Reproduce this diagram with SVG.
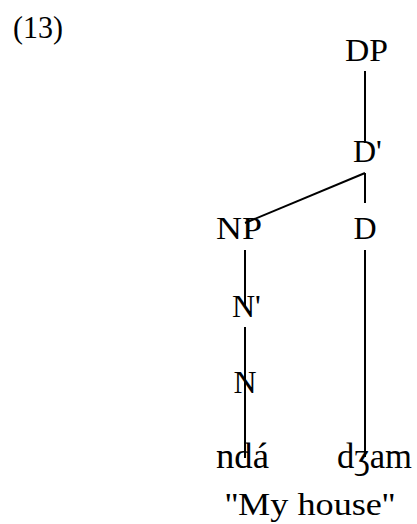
<svg xmlns="http://www.w3.org/2000/svg" width="417" height="524" viewBox="0 0 417 524">
<style>
text{font-family:"Liberation Serif","DejaVu Serif",serif;font-size:32px;fill:#000}
.c{text-anchor:middle}
.w{font-size:35px}
line{stroke:#000;stroke-width:2}
</style>
<rect width="417" height="524" fill="#fff"/>
<text x="13" y="38" font-size="31" textLength="50" lengthAdjust="spacingAndGlyphs">(13)</text>
<g id="connectors">
<line x1="365" y1="71" x2="365" y2="143"/>
<line x1="365" y1="173" x2="365" y2="203"/>
<line x1="365" y1="173" x2="245" y2="223"/>
<line x1="245" y1="250" x2="245" y2="307"/>
<line x1="245" y1="327" x2="245" y2="458"/>
<line x1="365" y1="250" x2="365" y2="457"/>
</g>
<g id="DP"><text x="345" y="61" textLength="43" lengthAdjust="spacingAndGlyphs">DP</text></g>
<g id="Dbar"><text x="353" y="162">D'</text></g>
<g id="NP"><text x="216" y="239" textLength="46" lengthAdjust="spacingAndGlyphs">NP</text></g>
<g id="D"><text class="c" x="365" y="239">D</text></g>
<g id="Nbar"><text x="232" y="317">N'</text></g>
<g id="N"><text class="c" x="245" y="393">N</text></g>
<g id="nda"><text class="w" x="216" y="468" textLength="53" lengthAdjust="spacingAndGlyphs">ndá</text></g>
<g id="dzam"><text class="w" x="337" y="468" textLength="75" lengthAdjust="spacingAndGlyphs">dʒam</text></g>
<g id="gloss"><text x="225" y="515" font-size="33" textLength="170" lengthAdjust="spacingAndGlyphs">''My house''</text></g>
</svg>
